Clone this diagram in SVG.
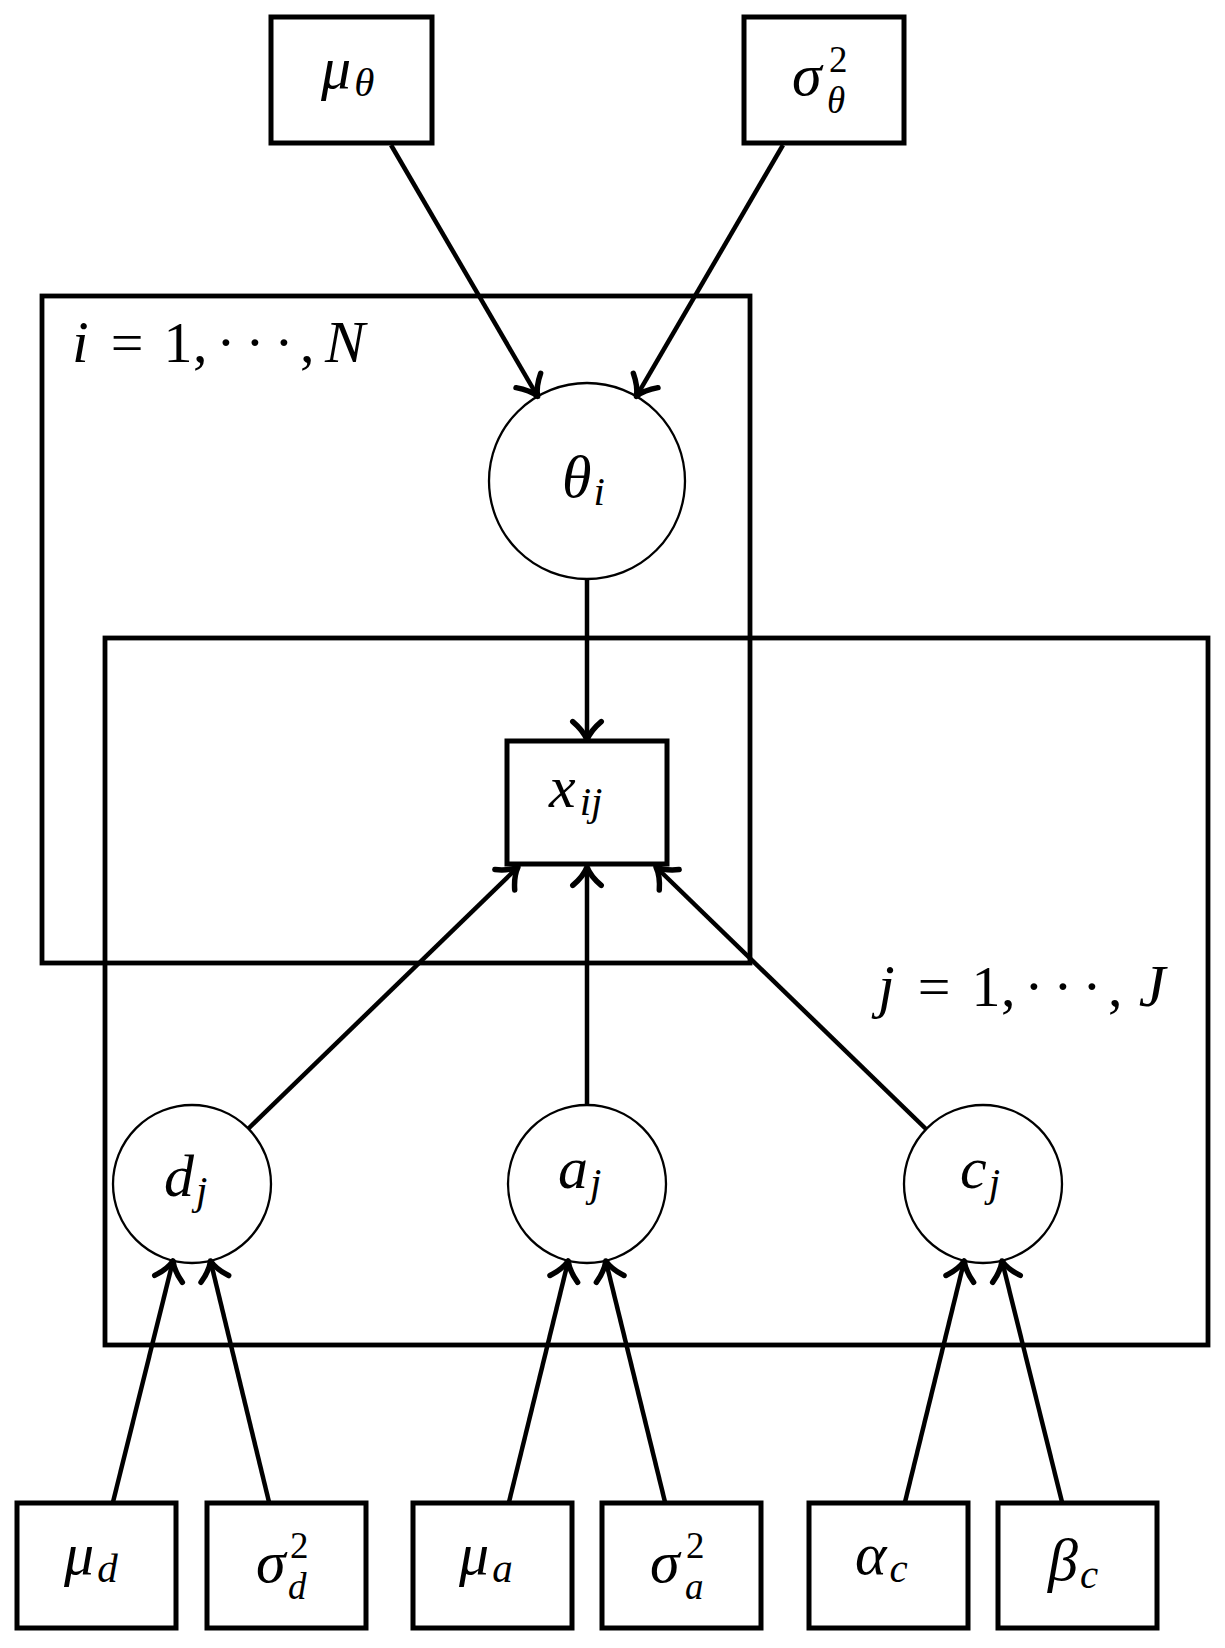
<svg xmlns="http://www.w3.org/2000/svg" width="1225" height="1648" viewBox="0 0 1225 1648">
<style>
.plate{fill:none;stroke:#000;stroke-width:4.8}
.box{fill:#fff;stroke:#000;stroke-width:5}
.circ{fill:#fff;stroke:#000;stroke-width:2.3}
.edge{fill:none;stroke:#000;stroke-width:4.5;marker-end:url(#arr)}
text{font-family:"Liberation Serif","Times New Roman",serif;fill:#000}
.m{font-size:60px;font-style:italic}
.s{font-size:41px;font-style:italic}
.ss{font-size:37px;font-style:italic}
.r{font-size:37px;font-style:normal}
.u{font-size:58px;font-style:normal}
</style>
<defs>
<marker id="arr" markerUnits="userSpaceOnUse" markerWidth="38" markerHeight="38" viewBox="-20 -16 24 32" refX="0" refY="0" orient="auto" overflow="visible">
<path d="M -15.5 -12 C -10 -5.5 -4 -1.5 0 0 C -4 1.5 -10 5.5 -15.5 12" fill="none" stroke="#000" stroke-width="4.6" stroke-linecap="round" stroke-linejoin="round"/>
</marker>
</defs>
<rect x="0" y="0" width="1225" height="1648" fill="#fff"/>
<g id="plate-i">
<rect class="plate" x="42" y="296" width="708" height="667"/>
<text class="u" x="72" y="362"><tspan class="m">i</tspan><tspan x="127" text-anchor="middle">=</tspan><tspan x="178" text-anchor="middle">1</tspan><tspan x="193">,</tspan><tspan x="226" text-anchor="middle">·</tspan><tspan x="255" text-anchor="middle">·</tspan><tspan x="284" text-anchor="middle">·</tspan><tspan x="300">,</tspan><tspan class="m" x="345" text-anchor="middle">N</tspan></text>
</g>
<g id="plate-j">
<rect class="plate" x="105" y="638" width="1103" height="707"/>
<text class="u" x="878" y="1006"><tspan class="m">j</tspan><tspan x="934" text-anchor="middle">=</tspan><tspan x="986" text-anchor="middle">1</tspan><tspan x="1001">,</tspan><tspan x="1034" text-anchor="middle">·</tspan><tspan x="1063" text-anchor="middle">·</tspan><tspan x="1092" text-anchor="middle">·</tspan><tspan x="1108">,</tspan><tspan class="m" x="1152" text-anchor="middle">J</tspan></text>
</g>
<g id="mu-theta">
<rect class="box" x="271" y="17" width="161" height="126"/>
<text class="m" x="321" y="88">μ<tspan class="s" dx="3" dy="8">θ</tspan></text>
</g>
<g id="sigma2-theta">
<rect class="box" x="744" y="17" width="160" height="126"/>
<text class="m" x="792" y="95">σ<tspan class="r" x="829" dy="-23">2</tspan><tspan class="ss" x="827" dy="41">θ</tspan></text>
</g>
<g id="theta-i">
<circle class="circ" cx="587" cy="481" r="98"/>
<text class="m" x="562" y="497">θ<tspan class="s" dx="2" dy="8">i</tspan></text>
</g>
<g id="x-ij">
<rect class="box" x="507" y="741" width="160" height="123"/>
<text class="m" x="549" y="807">x<tspan class="s" dx="4" dy="8">ij</tspan></text>
</g>
<g id="d-j">
<circle class="circ" cx="192" cy="1184" r="79"/>
<text class="m" x="164" y="1196">d<tspan class="s" dx="2" dy="8">j</tspan></text>
</g>
<g id="a-j">
<circle class="circ" cx="587" cy="1184" r="79"/>
<text class="m" x="558" y="1188">a<tspan class="s" dx="2" dy="8">j</tspan></text>
</g>
<g id="c-j">
<circle class="circ" cx="983" cy="1184" r="79"/>
<text class="m" x="960" y="1188">c<tspan class="s" dx="2" dy="8">j</tspan></text>
</g>
<g id="mu-d">
<rect class="box" x="17" y="1503" width="159" height="125"/>
<text class="m" x="64" y="1574">μ<tspan class="s" dx="3" dy="8">d</tspan></text>
</g>
<g id="sigma2-d">
<rect class="box" x="207" y="1503" width="159" height="125"/>
<text class="m" x="256" y="1582">σ<tspan class="r" x="290" dy="-24">2</tspan><tspan class="ss" x="288" dy="41">d</tspan></text>
</g>
<g id="mu-a">
<rect class="box" x="413" y="1503" width="159" height="125"/>
<text class="m" x="459" y="1574">μ<tspan class="s" dx="3" dy="8">a</tspan></text>
</g>
<g id="sigma2-a">
<rect class="box" x="602" y="1503" width="159" height="125"/>
<text class="m" x="650" y="1582">σ<tspan class="r" x="686" dy="-24">2</tspan><tspan class="ss" x="685" dy="41">a</tspan></text>
</g>
<g id="alpha-c">
<rect class="box" x="809" y="1503" width="159" height="125"/>
<text class="m" x="855" y="1574">α<tspan class="s" dx="3" dy="8">c</tspan></text>
</g>
<g id="beta-c">
<rect class="box" x="998" y="1503" width="159" height="125"/>
<text class="m" x="1048" y="1580">β<tspan class="s" dx="2" dy="8">c</tspan></text>
</g>
<g id="connectors">
<line class="edge" x1="391" y1="145" x2="537.6" y2="396.4"/>
<line class="edge" x1="783" y1="145" x2="636.4" y2="396.4"/>
<line class="edge" x1="587" y1="579" x2="587" y2="740"/>
<line class="edge" x1="248" y1="1129" x2="518" y2="867"/>
<line class="edge" x1="587" y1="1105" x2="587" y2="867"/>
<line class="edge" x1="926" y1="1129" x2="656" y2="867"/>
<line class="edge" x1="113" y1="1502" x2="173" y2="1261"/>
<line class="edge" x1="269" y1="1502" x2="210.5" y2="1261"/>
<line class="edge" x1="509" y1="1502" x2="568.2" y2="1261"/>
<line class="edge" x1="665" y1="1502" x2="605.8" y2="1261"/>
<line class="edge" x1="905" y1="1502" x2="964.2" y2="1261"/>
<line class="edge" x1="1062" y1="1502" x2="1002" y2="1261"/>
</g>
</svg>
